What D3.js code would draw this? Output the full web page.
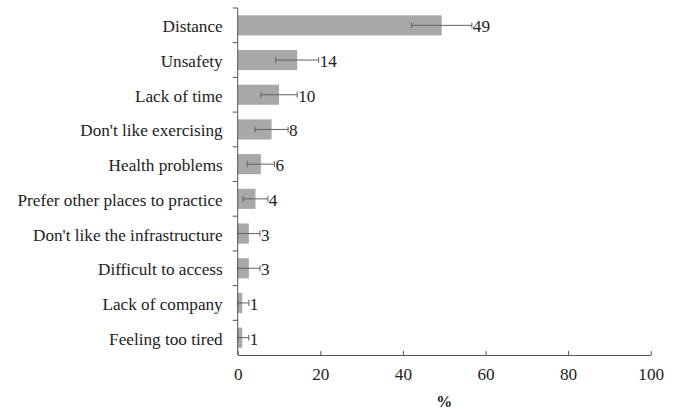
<!DOCTYPE html>
<html><head><meta charset="utf-8">
<script src="https://cdn.jsdelivr.net/npm/d3@7"></script>
<style>body{margin:0;background:#fff}</style>
</head><body>
<script>
const categories = ["Distance","Unsafety","Lack of time","Don't like exercising","Health problems","Prefer other places to practice","Don't like the infrastructure","Difficult to access","Lack of company","Feeling too tired"];
const values = [49.4, 14.4, 10.0, 8.2, 5.6, 4.3, 2.7, 2.7, 1.1, 1.1];
const errors = [7.3, 5.2, 4.4, 4.0, 3.3, 3.0, 2.7, 2.7, 1.6, 1.6];
const valueLabels = ["49","14","10","8","6","4","3","3","1","1"];
const xTicks = [0,20,40,60,80,100];
const xTitle = "%";

const W=678,H=409;
const m={left:237.7,right:27.3,top:8,bottom:54};
const svg=d3.select("body").append("svg").attr("width",W).attr("height",H);
const FONT='"Liberation Serif"';
const fs=17.2;
const x=d3.scaleLinear().domain([0,100]).range([m.left,W-m.right]);
const y=d3.scaleBand().domain(categories).range([m.top,H-m.bottom]).paddingInner(0.42).paddingOuter(0.21);
const axisColor="#555";

// bars
svg.selectAll("rect.bar").data(categories).join("rect")
 .attr("x",x(0)).attr("y",d=>y(d)).attr("width",(d,i)=>x(values[i])-x(0))
 .attr("height",y.bandwidth()).attr("fill","#a8a8a8");

// error bars
const eg=svg.append("g").attr("stroke","#606060").attr("stroke-width",1);
categories.forEach((c,i)=>{
  const cy=y(c)+y.bandwidth()/2;
  const lo=Math.max(0,values[i]-errors[i]), hi=values[i]+errors[i];
  eg.append("line").attr("x1",x(lo)).attr("x2",x(hi)).attr("y1",cy).attr("y2",cy);
  eg.append("line").attr("x1",x(lo)).attr("x2",x(lo)).attr("y1",cy-3).attr("y2",cy+3);
  eg.append("line").attr("x1",x(hi)).attr("x2",x(hi)).attr("y1",cy-3).attr("y2",cy+3);
  svg.append("text").attr("x",x(hi)+1).attr("y",cy+1).attr("dy","0.35em")
   .style("font-family",FONT).attr("font-size",fs).attr("fill","#222").text(valueLabels[i]);
});

// x axis
const xa=svg.append("g").attr("transform",`translate(0,${H-m.bottom})`)
 .call(d3.axisBottom(x).tickValues(xTicks).tickSizeInner(-4).tickSizeOuter(0).tickPadding(13));
xa.select(".domain").attr("stroke",axisColor);
xa.selectAll(".tick line").attr("stroke",axisColor);
xa.selectAll("text").style("font-family",FONT).attr("font-size",fs).attr("fill","#222");

// y axis
const ya=svg.append("g").attr("transform",`translate(${m.left},0)`);
ya.append("line").attr("x1",0).attr("x2",0).attr("y1",m.top).attr("y2",H-m.bottom).attr("stroke",axisColor);
const bounds=d3.range(categories.length).map(i=>m.top+i*(H-m.bottom-m.top)/categories.length);
ya.selectAll("line.t").data(bounds).join("line").attr("x1",-5).attr("x2",0)
 .attr("y1",d=>d).attr("y2",d=>d).attr("stroke",axisColor);
ya.selectAll("text").data(categories).join("text")
 .attr("x",-15).attr("y",d=>y(d)+y.bandwidth()/2+1).attr("dy","0.35em").attr("text-anchor","end")
 .style("font-family",FONT).attr("font-size",fs).attr("fill","#222").text(d=>d);

svg.append("text").attr("x",(x(0)+x(100))/2).attr("y",401).attr("dy","0.35em").attr("text-anchor","middle")
 .style("font-family",FONT).attr("font-size",16).attr("font-weight","bold").attr("fill","#222").text(xTitle);
</script>
</body></html>
